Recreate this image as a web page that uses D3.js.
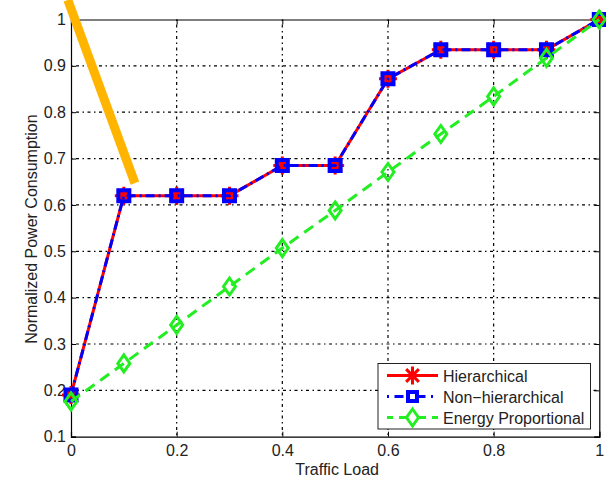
<!DOCTYPE html>
<html><head><meta charset="utf-8">
<script src="https://cdn.jsdelivr.net/npm/d3@7"></script>
<style>body{margin:0;background:#fff}svg{display:block}text{font-family:"Liberation Sans",Arial,sans-serif;fill:#222}</style>
</head><body><svg id="c" width="606" height="477"></svg>
<script>
const loads = [0,0.1,0.2,0.3,0.4,0.5,0.6,0.7,0.8,0.9,1.0];
const hierarchical = [0.19,0.62,0.62,0.62,0.685,0.685,0.872,0.935,0.935,0.935,1.0];
const nonHierarchical = [0.19,0.62,0.62,0.62,0.685,0.685,0.872,0.935,0.935,0.935,1.0];
const energyProportional = [0.176,0.258,0.341,0.424,0.507,0.588,0.671,0.753,0.834,0.917,1.0];
const xTicks = [0,0.2,0.4,0.6,0.8,1];
const yTicks = [0.1,0.2,0.3,0.4,0.5,0.6,0.7,0.8,0.9,1];
const annotX = [-0.006,0.121];
const annotY = [1.042,0.647];
const legendLabels = ["Hierarchical","Non\u2212hierarchical","Energy Proportional"];

const svg = d3.select("#c");
const L=71,R=599.3,T=19.5,B=436.7;
const x = d3.scaleLinear().domain([0,1]).range([L,R]);
const y = d3.scaleLinear().domain([0.1,1]).range([B,T]);

// grid
const g = svg.append("g");
g.selectAll(".gx").data(xTicks.slice(1,-1)).enter().append("line")
 .attr("x1",d=>x(d)).attr("x2",d=>x(d)).attr("y1",T).attr("y2",B)
 .attr("stroke","#000").attr("stroke-width",1.2).attr("stroke-dasharray","1.5,3.5,3,3.5");
g.selectAll(".gy").data(yTicks.slice(1,-1)).enter().append("line")
 .attr("y1",d=>y(d)).attr("y2",d=>y(d)).attr("x1",L).attr("x2",R)
 .attr("stroke","#000").attr("stroke-width",1.2).attr("stroke-dasharray","1.5,3.5,3,3.5");

// axes
const fmt = d=>d===0?"0":(d===1?"1":String(d));
const ax = svg.append("g");
ax.append("g").attr("transform",`translate(0,${B})`).call(d3.axisBottom(x).tickValues(xTicks).tickSize(-5).tickPadding(8).tickFormat(fmt));
ax.append("g").attr("transform",`translate(0,${T})`).call(d3.axisTop(x).tickValues(xTicks).tickSize(-5).tickFormat(""));
ax.append("g").attr("transform",`translate(${L},0)`).call(d3.axisLeft(y).tickValues(yTicks).tickSize(-5).tickPadding(5).tickFormat(fmt));
ax.append("g").attr("transform",`translate(${R},0)`).call(d3.axisRight(y).tickValues(yTicks).tickSize(-5).tickFormat(""));
ax.selectAll(".domain").attr("stroke","#000").attr("stroke-width",1.2);
ax.selectAll(".tick line").attr("stroke","#000");
ax.selectAll(".tick text").attr("font-size",16).attr("fill","#222").attr("font-family","Liberation Sans, Arial, sans-serif");

svg.append("text").attr("x",(L+R)/2+2).attr("y",475).attr("text-anchor","middle").attr("font-size",16).text("Traffic Load");
svg.append("text").attr("transform",`translate(36.5,${(T+B)/2+1}) rotate(-90)`).attr("text-anchor","middle").attr("font-size",16).text("Normalized Power Consumption");

const line = d3.line().x((d,i)=>x(loads[i])).y(d=>y(d));
const asterisk = (s)=>{const a=s*0.707;return `M${-s},0L${s},0M0,${-s}L0,${s}M${-a},${-a}L${a},${a}M${-a},${a}L${a},${-a}`;};
const square = (s)=>`M${-s},${-s}H${s}V${s}H${-s}Z`;
const diamond = (w,h)=>`M0,${-h}L${w},0L0,${h}L${-w},0Z`;

// red
svg.append("path").attr("d",line(hierarchical)).attr("fill","none").attr("stroke","#ff0000").attr("stroke-width",3);
svg.selectAll(".m1").data(hierarchical).enter().append("path")
 .attr("transform",(d,i)=>`translate(${x(loads[i])},${y(d)})`).attr("d",asterisk(9)).attr("stroke","#ff0000").attr("stroke-width",3).attr("fill","none");
// blue
svg.append("path").attr("d",line(nonHierarchical)).attr("fill","none").attr("stroke","#0000ff").attr("stroke-width",3).attr("stroke-dasharray","9,4,2,4");
svg.selectAll(".m2").data(nonHierarchical).enter().append("path")
 .attr("transform",(d,i)=>`translate(${x(loads[i])},${y(d)})`).attr("d",square(5.5)).attr("stroke","#0000ff").attr("stroke-width",4).attr("fill","none");
// green
svg.append("path").attr("d",line(energyProportional)).attr("fill","none").attr("stroke","#22ee22").attr("stroke-width",3).attr("stroke-dasharray","11,7");
svg.selectAll(".m3").data(energyProportional).enter().append("path")
 .attr("transform",(d,i)=>`translate(${x(loads[i])},${y(d)})`).attr("d",diamond(6,8.5)).attr("stroke","#22ee22").attr("stroke-width",3).attr("fill","none");

// orange annotation
svg.append("path").attr("d",d3.line().x((d,i)=>x(annotX[i])).y(d=>y(d))(annotY)).attr("stroke","#ffb400").attr("stroke-width",9).attr("fill","none");

// legend
const lg = svg.append("g");
lg.append("rect").attr("x",378).attr("y",363.5).attr("width",212.5).attr("height",65.5).attr("fill","#fff").attr("stroke","#222").attr("stroke-width",1);
const ly = [375.5,396.5,417.5];
const lx1=387,lx2=438,lm=412.5;
lg.append("line").attr("x1",lx1).attr("x2",lx2).attr("y1",ly[0]).attr("y2",ly[0]).attr("stroke","#ff0000").attr("stroke-width",3);
lg.append("path").attr("transform",`translate(${lm},${ly[0]})`).attr("d",asterisk(9)).attr("stroke","#ff0000").attr("stroke-width",3);
lg.append("line").attr("x1",lx1).attr("x2",lx2).attr("y1",ly[1]).attr("y2",ly[1]).attr("stroke","#0000ff").attr("stroke-width",3).attr("stroke-dasharray","2,5.5,9,5.5");
lg.append("path").attr("transform",`translate(${lm},${ly[1]})`).attr("d",square(4.5)).attr("stroke","#0000ff").attr("stroke-width",4).attr("fill","#fff");
lg.append("line").attr("x1",lx1).attr("x2",lx2).attr("y1",ly[2]).attr("y2",ly[2]).attr("stroke","#22ee22").attr("stroke-width",3).attr("stroke-dasharray","6,6,13,6,8");
lg.append("path").attr("transform",`translate(${lm},${ly[2]})`).attr("d",diamond(6,8.5)).attr("stroke","#22ee22").attr("stroke-width",3).attr("fill","#fff");
lg.selectAll(".lt").data(legendLabels).enter().append("text").attr("x",443).attr("y",(d,i)=>ly[i]+6).attr("font-size",16).text(d=>d);
</script></body></html>
